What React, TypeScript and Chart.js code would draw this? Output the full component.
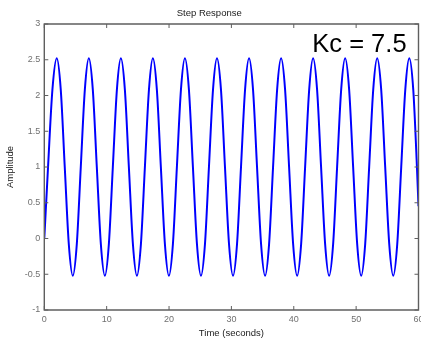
import React, { useEffect, useRef } from "react";
import { Chart, registerables } from "chart.js";

Chart.register(...registerables);

// Step response samples (time in seconds, amplitude)
const timeSec: number[] = [
  0, 0.6, 1.3,
  2.0, 2.64, 3.28, 3.93, 4.57, 5.21, 5.85, 6.5,
  7.14, 7.78, 8.42, 9.07, 9.71, 10.35, 10.99, 11.64,
  12.28, 12.92, 13.56, 14.21, 14.85, 15.49, 16.13, 16.78,
  17.41, 18.05, 18.69, 19.34, 19.98, 20.62, 21.26, 21.91,
  22.55, 23.19, 23.83, 24.48, 25.12, 25.76, 26.4, 27.05,
  27.69, 28.33, 28.97, 29.62, 30.26, 30.9, 31.54, 32.19,
  32.83, 33.47, 34.11, 34.76, 35.4, 36.04, 36.68, 37.33,
  37.97, 38.61, 39.25, 39.9, 40.54, 41.18, 41.82, 42.47,
  43.1, 43.74, 44.38, 45.03, 45.67, 46.31, 46.95, 47.6,
  48.24, 48.88, 49.52, 50.17, 50.81, 51.45, 52.09, 52.74,
  53.38, 54.02, 54.66, 55.31, 55.95, 56.59, 57.23, 57.88,
  58.52, 59.16, 59.75, 60.0,
];

const amplitude: number[] = [
  0, 1.0, 2.08,
  2.52, 2.08, 1.0, -0.08, -0.52, -0.08, 1.0, 2.08,
  2.52, 2.08, 1.0, -0.08, -0.52, -0.08, 1.0, 2.08,
  2.52, 2.08, 1.0, -0.08, -0.52, -0.08, 1.0, 2.08,
  2.52, 2.08, 1.0, -0.08, -0.52, -0.08, 1.0, 2.08,
  2.52, 2.08, 1.0, -0.08, -0.52, -0.08, 1.0, 2.08,
  2.52, 2.08, 1.0, -0.08, -0.52, -0.08, 1.0, 2.08,
  2.52, 2.08, 1.0, -0.08, -0.52, -0.08, 1.0, 2.08,
  2.52, 2.08, 1.0, -0.08, -0.52, -0.08, 1.0, 2.08,
  2.52, 2.08, 1.0, -0.08, -0.52, -0.08, 1.0, 2.08,
  2.52, 2.08, 1.0, -0.08, -0.52, -0.08, 1.0, 2.08,
  2.52, 2.08, 1.0, -0.08, -0.52, -0.08, 1.0, 2.08,
  2.52, 2.08, 1.0, 0.45,
];

const xTicks: number[] = [0, 10, 20, 30, 40, 50, 60];
const yTicks: number[] = [-1, -0.5, 0, 0.5, 1, 1.5, 2, 2.5, 3];
const xTickLabels: string[] = ["0", "10", "20", "30", "40", "50", "60"];
const yTickLabels: string[] = ["-1", "-0.5", "0", "0.5", "1", "1.5", "2", "2.5", "3"];

const titleText = "Step Response";
const xTitle = "Time (seconds)";
const yTitle = "Amplitude";
const annotationText = "Kc = 7.5";
const annotationAt = { x: 42.97, y: 2.613 };

const FONT = "'Liberation Sans', Arial, Helvetica, sans-serif";

const framePlugin = {
  id: "matlabFrame",
  afterDatasetsDraw(chart: any) {
    const { ctx, chartArea } = chart;
    const { left, right, top, bottom } = chartArea;
    const xs = chart.scales.x;
    const ys = chart.scales.y;
    const tl = 4;
    ctx.save();
    ctx.strokeStyle = "#5f5f5f";
    ctx.lineWidth = 1.4;
    ctx.beginPath();
    ctx.rect(left, top, right - left, bottom - top);
    ctx.stroke();
    ctx.lineWidth = 1;
    ctx.beginPath();
    xTicks.forEach((v) => {
      const px = xs.getPixelForValue(v);
      ctx.moveTo(px, bottom);
      ctx.lineTo(px, bottom - tl);
      ctx.moveTo(px, top);
      ctx.lineTo(px, top + tl);
    });
    yTicks.forEach((v) => {
      const py = ys.getPixelForValue(v);
      ctx.moveTo(left, py);
      ctx.lineTo(left + tl, py);
      ctx.moveTo(right, py);
      ctx.lineTo(right - tl, py);
    });
    ctx.stroke();

    ctx.fillStyle = "#000000";
    ctx.font = `25.5px ${FONT}`;
    ctx.textAlign = "left";
    ctx.textBaseline = "alphabetic";
    ctx.fillText(
      annotationText,
      xs.getPixelForValue(annotationAt.x),
      ys.getPixelForValue(annotationAt.y)
    );
    ctx.restore();
  },
};

export default function App() {
  const canvasRef = useRef<HTMLCanvasElement | null>(null);

  useEffect(() => {
    if (!canvasRef.current) return;
    Chart.defaults.font.family = FONT;
    const points = timeSec.map((t, i) => ({ x: t, y: amplitude[i] }));
    const chart = new Chart(canvasRef.current, {
      type: "line",
      data: {
        datasets: [
          {
            data: points,
            borderColor: "#0000ff",
            borderWidth: 2,
            pointRadius: 0,
            fill: false,
            cubicInterpolationMode: "monotone",
          },
        ],
      },
      options: {
        responsive: false,
        animation: false,
        devicePixelRatio: 1,
        layout: { padding: { left: 0, right: 2.5, top: 0, bottom: 0 } },
        plugins: {
          legend: { display: false },
          tooltip: { enabled: false },
          title: {
            display: true,
            text: titleText,
            color: "#1a1a1a",
            font: { size: 9.5, weight: "normal" },
            padding: { top: 7.3, bottom: 5.3 },
          },
        },
        scales: {
          x: {
            type: "linear",
            min: 0,
            max: 60,
            afterBuildTicks: (scale: any) => {
              scale.ticks = xTicks.map((v) => ({ value: v }));
            },
            afterFit: (scale: any) => {
              scale.height = 32;
              scale.paddingLeft = 0;
              scale.paddingRight = 0;
            },
            grid: { display: false, drawTicks: false },
            border: { display: false },
            ticks: {
              color: "#707070",
              font: { size: 9 },
              padding: 4,
              maxRotation: 0,
              autoSkip: false,
              callback: (v: any) => {
                const i = xTicks.indexOf(Number(v));
                return i >= 0 ? xTickLabels[i] : "";
              },
            },
            title: {
              display: true,
              text: xTitle,
              color: "#1a1a1a",
              font: { size: 9.5 },
              padding: { top: 0, bottom: 3.3 },
            },
          },
          y: {
            type: "linear",
            min: -1,
            max: 3,
            afterBuildTicks: (scale: any) => {
              scale.ticks = yTicks.map((v) => ({ value: v }));
            },
            afterFit: (scale: any) => {
              scale.width = 44.3;
              scale.paddingTop = 0;
              scale.paddingBottom = 0;
            },
            grid: { display: false, drawTicks: false },
            border: { display: false },
            ticks: {
              color: "#707070",
              font: { size: 9 },
              padding: 4,
              autoSkip: false,
              callback: (v: any) => {
                const i = yTicks.indexOf(Number(v));
                return i >= 0 ? yTickLabels[i] : "";
              },
            },
            title: {
              display: true,
              text: yTitle,
              color: "#1a1a1a",
              font: { size: 9.5 },
              padding: { top: 5, bottom: 0 },
            },
          },
        },
      },
      plugins: [framePlugin],
    } as any);
    return () => chart.destroy();
  }, []);

  return (
    <div style={{ position: "absolute", left: 0, top: 0, width: 421, height: 342, background: "#ffffff" }}>
      <canvas ref={canvasRef} width={421} height={342} style={{ display: "block" }} />
    </div>
  );
}
